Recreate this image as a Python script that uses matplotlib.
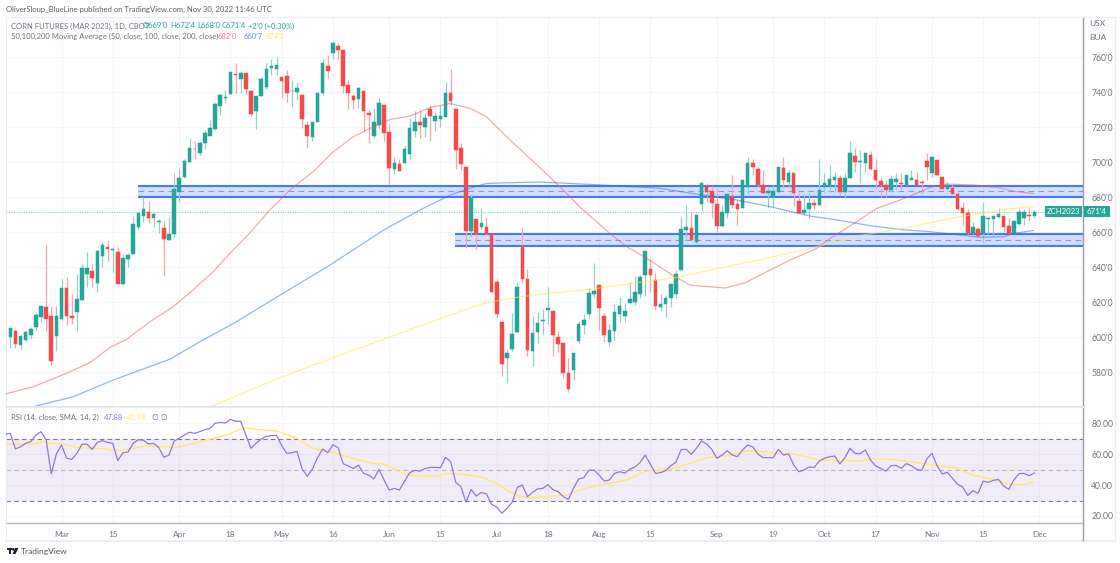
import numpy as np
import matplotlib
matplotlib.use("Agg")
from matplotlib import pyplot as plt
from matplotlib.patches import Circle, Polygon, Rectangle

plt.rcParams['font.family'] = ['Lato', 'DejaVu Sans']

# daily candles, one value per session
opens = [600.2,603.4,595.4,598.5,601.2,605.9,611.4,617,612.2,600.6,
         610.5,627.8,612,614.3,621.2,636.2,637.5,630.7,646.3,651.4,
         650,648.4,630.3,644.6,647.6,662.7,669.2,671.4,668,666,
         662.1,655.6,659,683,691.2,700.2,707.7,705.3,710.7,715,
         718.7,732,736.6,738.7,750.3,747.6,751,740.8,729,737.7,
         742.7,753.9,753.3,748.8,749,740.5,739.8,738.3,721,714.5,
         723,739.2,754.9,762.2,766.3,764,744,737.9,736,740.6,
         727.8,714.9,721.1,732.6,717,695.8,698.7,699.6,704.4,717.7,
         722.9,719.8,730.1,723.2,724.4,725.9,739.6,730.3,707.8,697.2,
         660.6,667.2,663,662.7,658.9,631.2,608.4,588.2,593,603,
         652.2,633.1,591.8,603,609.1,615.6,614.7,600.2,596.8,579.6,
         581.1,597.9,607,613.1,624.8,629.7,612.2,597,603.6,613.3,
         612,619.6,619.8,624.8,635.4,639,632.6,617.1,618.7,622.5,
         624.8,638.3,661.2,662.1,654.1,676,686.5,683.4,676,663.4,
         671,680.8,676,673.9,685.9,699.2,696,686.9,682.5,680.2,
         682.9,696.4,688.4,693.5,677.9,670.7,673.1,676.4,675.6,685.5,
         686.5,689.7,691,683,690.7,703.4,700.1,699.6,704.2,695.4,
         689.3,686.9,684,688.8,687.8,686.9,689.7,689.7,688.4,700.8,
         693.5,701.1,691.6,684.8,685,681.7,673.5,670.7,659.3,661.7,
         658.7,667.2,667.2,668.4,669.1,663.4,659.6,664.6,668.2,669.7,669]
closes = [605,596.2,600.4,603,604.6,612.6,617.9,610.5,586.1,612,
          627.8,612,610.9,621.5,639.4,639.4,633.9,649.2,652.6,650.3,
          650.3,630.3,645.2,646.7,664.8,670.9,673.2,668,670.3,666.3,
          656,659,684.6,690.7,700.8,708,707.3,711,716.8,719.4,
          733.3,738.3,737.3,751.4,749.5,751,741.5,727.3,737.7,747.2,
          753,754.9,755.2,746.3,739.6,740.6,742.3,724.4,714.9,723,
          739.6,756.4,752,768.2,764,743.6,739.2,735.4,742.3,729.1,
          726.9,722.7,733.9,716.4,696.4,699.2,694.9,707.2,719.2,722.9,
          721,724.9,726.3,726.3,726.3,739.6,734.9,706.9,698.9,660.6,
          679.6,658.9,665.1,658.9,625.9,613.1,584.6,591,601.5,628.6,
          633.1,592.6,602.1,607.8,609.7,616.6,601.3,595.8,579.6,570.3,
          590.7,607.2,609.7,625,626.3,616.4,601.3,604,614.1,617.9,
          614.9,621.5,625.7,634.3,649,635.4,617.9,618.9,622.5,630.5,
          636.2,661.7,662.7,655.4,669.7,687.8,683,676.4,663.4,671.2,
          681.9,675.4,673.3,689.7,699.6,697.3,686.9,682.5,683.4,683.4,
          697.3,689.7,693.5,682.1,670.7,672.6,676.4,675.4,684,687.8,
          690.1,691.2,683,691,705,699.8,700.4,705.3,696,689.7,
          686.9,684,690.1,690.3,687.3,692.6,690.7,686.9,687.8,697,
          702.7,692.6,684.8,686.9,681.5,673.1,670.7,659.3,663.1,657.9,
          669.3,668,669.1,670.1,663.1,658.7,666.3,671.3,671.6,669.2,671.5]
highs = [605,603.8,601.2,603.3,606,613.5,618.3,653.2,618,617.7,
         633.2,634.1,624.4,636,641.5,648.4,641.7,649.7,654.1,655.4,
         651.6,651.4,647.4,647.8,669.2,671,680,677.7,671,667.3,
         666.5,668.4,693.5,696.4,702,713.5,712,712,718.3,724,
         734.5,739.2,741,751.4,756.8,752,751,740.8,737.7,748.8,
         756.4,758.7,760.2,748.8,752.6,746.9,745.9,738.3,723.4,723,
         740.2,758.7,761,769,768.2,764,746.9,738.7,743,740.6,
         729.7,730.7,736.4,732.6,722,703,702,709.7,725,729.1,
         729.7,727.8,732.6,728.8,732.6,745.7,753.1,730.3,710.7,697.5,
         681.7,667.2,673.5,668.4,658.9,633,608.4,592.6,614,631,
         662.5,638.7,612.2,614.3,616,628.8,614.7,603.4,596.8,588.2,
         590.7,609,613,627.8,642.1,629.7,614,607.2,618.7,622.7,
         619.2,631.6,634.9,635.2,649,645,636.4,624.6,624,630.5,
         638.3,668.4,676,671.2,669.7,688.8,687.8,686.5,685,675.4,
         681.9,692.6,678.3,689.7,702.7,702,697.3,695.4,686,686.9,
         697.3,702.7,695.4,693.5,683,682,682.7,678.9,702,694,
         698.3,694.5,692.6,693.5,712,707.8,706.9,705.3,706.5,701.5,
         690.7,689.7,692.6,693.9,693.5,692.6,695.4,694.5,689.7,705,
         702.7,701.1,691.6,688.8,686.9,683,677.3,673,666,663,
         677,668.8,669.1,674,669.1,668,666.3,673,673,674,672.5]
lows = [594,593.7,593,598,598.7,604,608.8,603.6,584,592,
        610,607,607.4,603.6,621,628.8,628.4,625.5,640.2,643.6,
        637,630.1,630.1,640.2,647.6,662,666,665.3,663,659.3,
        635,655.4,657.3,677,691,699.8,702,703.8,707.3,714.8,
        718.3,726.8,733.5,738.7,739.6,739.6,738.7,726.3,718.7,737.7,
        742,749.7,749.7,736.4,734.5,731.6,735.4,719.4,708.2,712.2,
        723,738.3,747.8,758.7,758.7,739.6,730.3,730.1,730.7,717.7,
        711,713.5,719.6,712,687.4,693,694.9,699.6,702,714.5,
        713.5,714.5,712.2,717.7,720.2,725.9,732.6,696,695.4,651,
        657.3,650.3,661.5,658.3,625.9,611,577.9,573.5,592,603,
        631,589.1,583.6,596.4,601.7,607.2,589,591.2,576.8,568.8,
        575.4,596.8,601.5,610.7,622.5,604,597.3,595,598.3,608.4,
        608.8,619.6,618.3,622.5,623.4,625.5,615.4,615,611.6,617.3,
        622.1,638.3,655.4,655.4,653.5,672,677.3,667.8,660.2,662.7,
        667.8,673.5,664,673.5,682,692.6,686,682,674,674.5,
        682.9,684.4,686,674.9,670.7,669.7,667.8,673.1,675.6,683,
        683,683,681,679.3,690.7,694.5,687.8,694.5,695.4,684.4,
        680.2,680.2,683,684.4,684,686.9,689.7,686.9,682,689.7,
        691.6,692.6,684.4,684.8,681.5,672.6,664,658.9,659.3,657,
        653.9,659,657,667.8,660.2,658.7,659.6,664,664,667,668]

# moving averages, sampled at the sessions where they could be read
ma50_x = [-0.8,4.5,7.7,11,15.6,19.5,22.7,27.3,31.8,35.7,39.6,42.9,46.8,50.7,54.6,59.5,63.1,67,70.3,74.2,78.1,82,85.9,
          89.8,93,97.6,103,108,111.9,117.1,120.4,124.3,128.8,132.7,139.6,143.5,148.4,152.3,157.5,160.1,165.3,169.2,
          173.8,177.7,180.3,182.9,188.1,192.7,195.9,199.8]
ma50_y = [567.6,571.6,575.4,579.3,585.5,594.1,598.7,608.8,617.3,626.9,637.3,647.8,659.6,672.6,684,695.4,705.9,714.5,719.2,724.4,726.3,731.2,733.5,
          730.7,725.9,712.6,698,684,672.6,659.2,651.6,645,636.3,629.7,628,631,638.3,644,650.7,656.4,665.9,673.5,
          678.3,683,686.3,687.4,686.9,685.5,683.4,682]
ma100_x = [-0.8,4.5,12.3,20.1,31.2,37,43.6,52.7,62.4,72.9,80,85.9,89.8,93,97.6,103.4,115,126.8,135.3,141.9,148.4,156.3,161.5,168,173.8,179.6,185.5,189.4,194,196,199.8]
ma100_y = [557,560.2,565.9,575.4,587.4,597.3,607.8,624,641.1,661.1,672.6,681.1,685,687.8,688.2,688.6,687,685,681.1,678.3,674.5,669.1,666.9,663.6,661.5,660.2,658.3,657,657.3,659.2,660.9]
ma200_x = [39,52.7,62,75,85.9,92.4,98.9,105.4,113.2,121.6,130.2,132.7,146.1,157.5,165.3,173.8,179.6,184.8,189.4,194.6,199.8]
ma200_y = [560,576.8,587,601,612.6,619.2,622.7,625,627.2,630.7,634.1,635.8,644,651.6,657.7,661.8,665.3,668.4,670.7,673,674.6]

# drawn support/resistance zones: first session, top, bottom
zone_starts = [24.9, 86.9]
zone_tops = [686.5, 658.7]
zone_bottoms = [680.2, 652.2]

# rsi, first value is the session just off the left edge
rsi = [73,73.6,63.4,64.9,67.1,68.2,72.5,74.7,69.3,47.4,60.2,
       66,57.4,56.7,60.6,66.5,66.5,63.2,67.8,68.8,67.8,
       67.1,55.9,61,61.5,67.1,69.5,69.1,66.7,67.1,64.3,
       58,59.5,68.6,70.4,72.5,74.3,73.6,74.7,76,76.8,
       80.1,80.7,80.3,82.7,81.4,81.4,72.5,63.9,67.1,69.9,
       71.7,72.1,72.3,65.6,60.6,61,61.9,50.4,45.7,50.4,
       57.8,63.4,61,66.2,64.3,53.9,52.4,50.7,53,47.6,
       46.5,44,50.2,43.3,36.8,37.9,36.8,42.6,48,49.6,
       49.1,50.7,51.5,51.5,51.3,58,55.2,41.8,39,29,
       37.2,32.9,35.3,34.2,27.5,25.8,21.7,24.9,28.8,38.5,
       40,32.5,35.3,37.5,37.9,40.3,37,35.7,32.5,30.7,
       37.9,44,44.8,49.6,49.8,46.5,42.6,43.3,47.6,48.7,
       47.8,50.4,51.7,54.8,59.5,53.5,47.6,48.1,49.4,52.6,
       54.8,63,63.2,60,63.9,68.6,66.7,63.2,57.4,59.5,
       62.3,59.5,58.4,62.8,66,64.9,60.2,57.8,57.8,57.8,
       63.2,59.5,60.2,53,48.7,49.8,51.7,51.5,55.6,57.4,
       58.4,58.9,53.7,57.8,63.9,60.6,60.4,62.8,56.3,52.4,
       50.9,49.1,52.6,52.8,50.9,53.9,52.6,50.2,49.6,56.9,
       60.6,52.6,47.2,48.3,44.4,40.5,38.8,33.3,36.4,34.6,
       42.6,41.8,43.1,43.7,39.4,37.2,43.3,47.4,47.6,46.1,47.9]
rsi_ma_x = [-0.8,4.5,6.8,7.8,9.7,13,17.5,20.8,24,26.6,29.2,32.5,34.4,38.4,42.3,45.5,48,52,56,59,63,66.3,70.8,72.8,75.4,77.4,80.6,83.2,85.5,89.1,92.3,94.9,97.5,99.5,101.5,104,108.6,111.2,115.1,120.3,124.2,128.2,132.7,136,138.7,141.9,143.7,147.6,150.2,152.5,155.4,158,161.3,165.8,168.4,172.3,175.6,178.8,181.5,184.7,188,192.5,195.2,197.8,199.8]
rsi_ma_y = [66.5,66.7,68.4,67.1,66.9,64.5,63.9,62.3,63.9,65.6,64.9,64.3,66,69.3,72.5,77.3,76.2,75.1,70.4,63.9,61.3,57.8,54.1,53.9,49.8,46.5,45.7,45.9,47.6,46.8,45,41.1,35.7,32.9,31.6,32.5,33.3,36.8,40,43.3,49.1,49.8,54.1,57.8,58.4,60.6,62.2,61.7,60.2,60.4,58.4,56.3,55.9,55.6,57.2,56.7,55.2,53.7,52.6,51.3,46.5,43.3,40.5,40.5,41.7]

price_ticks = [580,600,620,640,660,680,700,720,740,760]
price_labels = ["580'0","600'0","620'0","640'0","660'0","680'0","700'0","720'0","740'0","760'0"]
rsi_ticks = [20,40,60,80]
rsi_labels = ["20.00","40.00","60.00","80.00"]
time_ticks = [10,20,33,43,53,63,74,84,95,105,115,125,138,149,159,169,180,190,201]
time_labels = ["Mar","15","Apr","18","May","16","Jun","15","Jul","18","Aug","15","Sep","19","Oct","17","Nov","15","Dec"]

W, H = 1120, 563
UP, DOWN = '#26a69a', '#f44a4a'
GRID = '#f3f5fb'
TEXT = '#70747f'

fig = plt.figure(figsize=(W/100, H/100), dpi=100)


def pane(left, top, right, bottom):
    return fig.add_axes([left/W, 1 - bottom/H, (right - left)/W, (bottom - top)/H])


ax = pane(6, 17, 1083, 406)
ax2 = pane(6, 407, 1083, 523)
over = fig.add_axes([0, 0, 1, 1], zorder=10)
over.set_xlim(0, W)
over.set_ylim(H, 0)
over.axis('off')

bars = np.arange(len(opens))
opens, closes, highs, lows = map(np.array, (opens, closes, highs, lows))
up = closes >= opens
colors = np.where(up, UP, DOWN)

ax.set_xlim(-0.84, 209.5)
ax.set_ylim(560.6, 782.9)
ax.set_yticks(price_ticks, price_labels)
ax.yaxis.tick_right()
ax.set_xticks(time_ticks, [])
ax.grid(True, color=GRID, lw=0.8)
ax.set_axisbelow(True)

for start, top, bottom in zip(zone_starts, zone_tops, zone_bottoms):
    ax.fill_between([start, 209.5], bottom, top, color='#2962ff', alpha=0.2, lw=0, zorder=1)
    ax.hlines([top, bottom], start, 209.5, color='#2962ff', alpha=0.85, lw=1.5, zorder=1.5)
    ax.hlines((top + bottom)/2, start, 209.5, color='#2962ff', alpha=0.55, lw=0.8,
              linestyles=(0, (5, 4)), zorder=1.5)

ax.axhline(closes[-1], color=UP, alpha=0.55, lw=0.8, ls=(0, (1, 1.2)), zorder=1.6)

for good, wick in ((up, '#8ed2ca'), (~up, '#f8a5a5')):
    ax.vlines(bars[good], lows[good], highs[good], color=wick, lw=0.9, zorder=2)
ax.bar(bars, np.abs(closes - opens), bottom=np.minimum(opens, closes), width=0.7,
       color=colors, edgecolor=colors, lw=0.35, zorder=3)

ax.plot(ma50_x, ma50_y, color='#ef5350', alpha=0.5, lw=0.9, zorder=4)
ax.plot(ma100_x, ma100_y, color='#2962ff', alpha=0.5, lw=0.9, zorder=4)
ax.plot(ma200_x, ma200_y, color='#ffeb3b', alpha=0.6, lw=0.9, zorder=4)

ax2.set_xlim(ax.get_xlim())
ax2.set_ylim(15.4, 90.7)
ax2.set_yticks(rsi_ticks, rsi_labels)
ax2.yaxis.tick_right()
ax2.set_xticks(time_ticks, time_labels)
ax2.grid(True, color=GRID, lw=0.8)
ax2.set_axisbelow(True)
ax2.axhspan(30, 70, color='#7e57c2', alpha=0.1, lw=0, zorder=1)
ax2.axhline(70, color='#787b86', lw=0.8, ls=(0, (4, 3)), zorder=2)
ax2.axhline(50, color='#787b86', alpha=0.45, lw=0.8, ls=(0, (4, 3)), zorder=2)
ax2.axhline(30, color='#787b86', lw=0.8, ls=(0, (4, 3)), zorder=2)
ax2.plot(np.arange(-1, len(rsi) - 1), rsi, color='#9575d8', lw=0.9, zorder=4)
ax2.plot(rsi_ma_x, rsi_ma_y, color='#ffe86b', lw=1.0, zorder=3)

for a in (ax, ax2):
    for side in ('left', 'top'):
        a.spines[side].set_color('#e9ebf1')
        a.spines[side].set_linewidth(0.8)
    a.spines['right'].set_color('#9a9da6')
    a.spines['right'].set_linewidth(1.0)
    a.tick_params(length=0, labelsize=6.2, labelcolor=TEXT, pad=6)
ax.spines['bottom'].set_color('#e0e3eb')
ax.spines['bottom'].set_linewidth(0.8)
ax2.spines['bottom'].set_color('#b2b5be')
ax2.spines['bottom'].set_linewidth(1.0)
ax2.tick_params(axis='x', pad=5.5, labelsize=6.0)

# frame around the chart block
over.add_patch(Rectangle((1083, 523), 32, 17, fc='none', ec='none'))
over.plot([6, 1115], [16.5, 16.5], color='#eceef3', lw=0.8)
over.plot([6, 1115], [540.5, 540.5], color='#eceef3', lw=1.5)
over.plot([1115, 1115], [16.5, 540.5], color='#eceef3', lw=1.0)
over.plot([6, 6], [523, 540.5], color='#eceef3', lw=0.8)
over.plot([1083, 1083], [523, 540], color='#9a9da6', lw=1.0)

FS = 5.5
over.text(6.5, 9.5, "OliverSloup_BlueLine published on TradingView.com, Nov 30, 2022 11:46 UTC",
          fontsize=FS, color='#5b5f6b', va='center')
over.text(11, 26, "CORN FUTURES (MAR 2023), 1D, CBOT", fontsize=FS, color=TEXT, va='center')
for x, s in ((143, "O669'0"), (170, "H672'4"), (197, "L668'0"), (222, "C671'4"), (248, "+2'0 (+0.30%)")):
    over.text(x, 26, s, fontsize=FS, color=UP, va='center')
over.text(11, 36.5, "50,100,200 Moving Average (50, close, 100, close, 200, close)", fontsize=FS, color=TEXT, va='center')
for x, s, c in ((218, "682'0", '#f77c7c'), (244, "660'7", '#6a8cff'), (266, "674'5", '#ffe94f')):
    over.text(x, 36.5, s, fontsize=FS, color=c, va='center')
over.text(11, 417, "RSI (14, close, SMA, 14, 2)", fontsize=FS, color=TEXT, va='center')
for x, s, c in ((104, "47.88", '#9575d8'), (127, "41.74", '#ffe94f'), (151, "∅", TEXT), (160, "∅", TEXT)):
    over.text(x, 417, s, fontsize=FS, color=c, va='center')
over.text(1089, 24, "USX", fontsize=6.0, color=TEXT, va='center')
over.text(1089, 37, "BUA", fontsize=6.0, color=TEXT, va='center')

# last price tags
tag_y = ax.transData.transform((0, closes[-1]))[1]
tag_y = H - tag_y
over.add_patch(Rectangle((1045, tag_y - 5.5), 37, 11, fc=UP, ec='none'))
over.add_patch(Rectangle((1084, tag_y - 5.5), 26, 11, fc=UP, ec='none'))
over.text(1063.5, tag_y, "ZCH2023", fontsize=5.6, color='white', ha='center', va='center')
over.text(1097, tag_y, "671'4", fontsize=5.8, color='white', ha='center', va='center')

# logo and footer
over.add_patch(Rectangle((6.5, 548), 5, 2, fc='#1f2430', ec='none'))
over.add_patch(Rectangle((8.5, 548), 2, 6, fc='#1f2430', ec='none'))
over.add_patch(Circle((13.2, 549.3), 1.3, fc='#1f2430', ec='none'))
over.add_patch(Polygon([(15, 548), (18.5, 548), (15.5, 554), (12.5, 554)], fc='#1f2430', ec='none'))
over.text(20.5, 551.5, "TradingView", fontsize=6.0, color='#50535e', va='center')

fig.savefig('out.png', dpi=100)
